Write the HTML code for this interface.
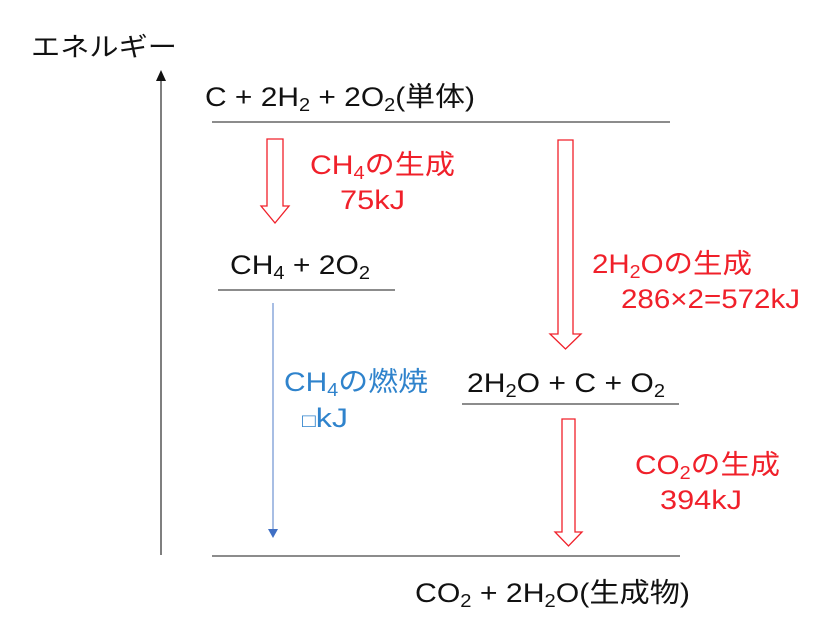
<!DOCTYPE html>
<html><head><meta charset="utf-8"><style>
html,body{margin:0;padding:0;background:#fff;}
svg{display:block;}
text{font-family:"Liberation Sans","Noto Sans CJK JP",sans-serif;}
</style></head><body>
<svg width="824" height="626" viewBox="0 0 824 626" xmlns="http://www.w3.org/2000/svg">
<text x="31" y="56" font-size="26" fill="#111" textLength="146" lengthAdjust="spacingAndGlyphs">エネルギー</text>
<line x1="161" y1="80" x2="161" y2="555" stroke="#555" stroke-width="1.5"/>
<polygon points="161,70 156,81 166,81" fill="#111"/>

<text x="205" y="106" font-size="27" fill="#111" textLength="270" lengthAdjust="spacingAndGlyphs">C + 2H<tspan font-size="18" dy="5">2</tspan><tspan dy="-5"> + 2O</tspan><tspan font-size="18" dy="5">2</tspan><tspan dy="-5">(単体)</tspan></text>
<line x1="212" y1="122" x2="670" y2="122" stroke="#666" stroke-width="1.5"/>

<polygon points="267,139 283,139 283,206 289,206 275,223 261,206 267,206" fill="#fff" stroke="#f0202a" stroke-width="1.3"/>
<text x="310" y="174" font-size="27" fill="#f0202a" textLength="145" lengthAdjust="spacingAndGlyphs">CH<tspan font-size="18" dy="5">4</tspan><tspan dy="-5">の生成</tspan></text>
<text x="340" y="209" font-size="27" fill="#f0202a" textLength="65" lengthAdjust="spacingAndGlyphs">75kJ</text>

<text x="230" y="274" font-size="27" fill="#111" textLength="140" lengthAdjust="spacingAndGlyphs">CH<tspan font-size="18" dy="5">4</tspan><tspan dy="-5"> + 2O</tspan><tspan font-size="18" dy="5">2</tspan></text>
<line x1="218" y1="290" x2="395" y2="290" stroke="#666" stroke-width="1.5"/>

<line x1="273" y1="303" x2="273" y2="530" stroke="#7a9bd6" stroke-width="1.3"/>
<polygon points="268,529 278,529 273,538" fill="#3f6fc4"/>
<text x="284" y="391" font-size="27" fill="#2f83cc" textLength="144" lengthAdjust="spacingAndGlyphs">CH<tspan font-size="18" dy="5">4</tspan><tspan dy="-5">の燃焼</tspan></text>
<text x="302" y="427" font-size="27" fill="#2f83cc" textLength="46" lengthAdjust="spacingAndGlyphs"><tspan font-size="19">□</tspan>kJ</text>

<polygon points="558,140 573,140 573,334 581,334 565.5,349 550,334 558,334" fill="#fff" stroke="#f0202a" stroke-width="1.3"/>
<text x="592" y="273" font-size="27" fill="#f0202a" textLength="160" lengthAdjust="spacingAndGlyphs">2H<tspan font-size="18" dy="5">2</tspan><tspan dy="-5">Oの生成</tspan></text>
<text x="621" y="308" font-size="27" fill="#f0202a" textLength="179" lengthAdjust="spacingAndGlyphs">286×2=572kJ</text>

<text x="467" y="392" font-size="27" fill="#111" textLength="198" lengthAdjust="spacingAndGlyphs">2H<tspan font-size="18" dy="5">2</tspan><tspan dy="-5">O + C + O</tspan><tspan font-size="18" dy="5">2</tspan></text>
<line x1="462" y1="404" x2="679" y2="404" stroke="#666" stroke-width="1.5"/>

<polygon points="562,419 575,419 575,532 582,532 568.5,546 555,532 562,532" fill="#fff" stroke="#f0202a" stroke-width="1.3"/>
<text x="635" y="474" font-size="27" fill="#f0202a" textLength="145" lengthAdjust="spacingAndGlyphs">CO<tspan font-size="18" dy="5">2</tspan><tspan dy="-5">の生成</tspan></text>
<text x="660" y="509" font-size="27" fill="#f0202a" textLength="82" lengthAdjust="spacingAndGlyphs">394kJ</text>

<line x1="212" y1="556" x2="680" y2="556" stroke="#666" stroke-width="1.5"/>
<text x="415" y="602" font-size="27" fill="#111" textLength="275" lengthAdjust="spacingAndGlyphs">CO<tspan font-size="18" dy="5">2</tspan><tspan dy="-5"> + 2H</tspan><tspan font-size="18" dy="5">2</tspan><tspan dy="-5">O(生成物)</tspan></text>
</svg>
</body></html>
